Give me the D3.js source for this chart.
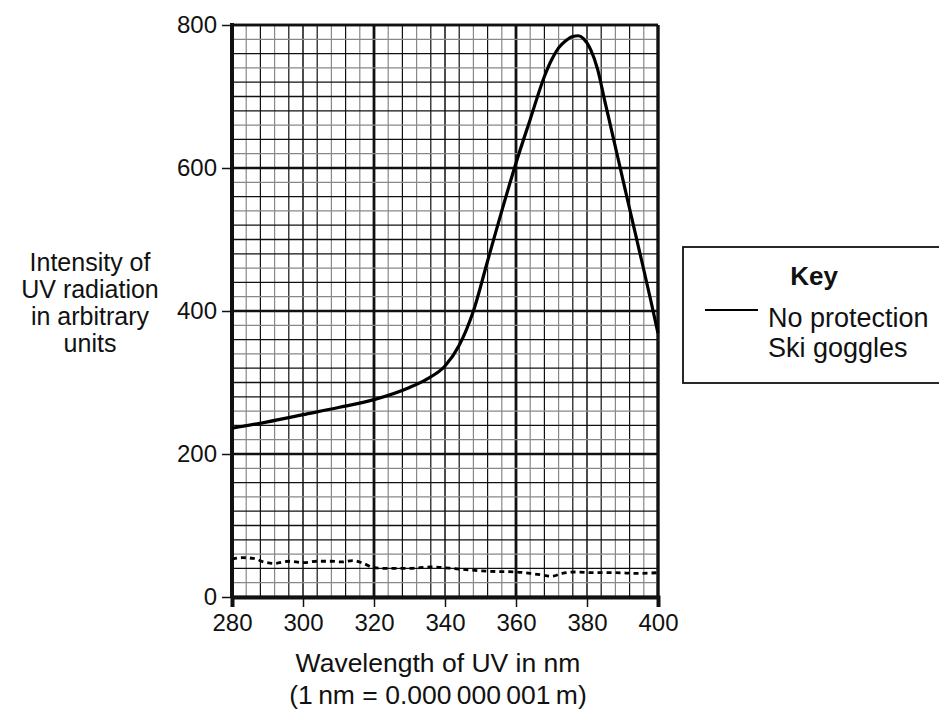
<html>
    <head>
        <style>
            body { margin: 0; background: #fff; }
            text { font-family: "Liberation Sans", Arial, sans-serif; fill: #111; }
        </style>
        <script src="https://d3js.org/d3.v7.min.js"></script>
    </head>
    <body>
        <svg width="939" height="709"></svg>
        <script>
            // wavelength (nm) and intensity
            let noProtWl  = [280, 290, 300, 310, 320, 330, 335, 340, 344, 348, 352, 356, 360, 364, 368, 370, 372, 374, 376, 377.5, 379, 381, 383, 385, 387, 389.5, 392, 395, 398, 400]
            let noProtVal = [236, 245, 255, 265, 276, 293, 305, 323, 352, 400, 470, 540, 607, 668, 728, 751, 768, 778, 784, 785, 781, 766, 738, 694, 651, 597, 543, 479, 414, 369]

            let skiWl  = [280, 283, 286, 289, 292, 296, 300, 304, 308, 311, 314, 317, 320, 324, 330, 336, 344, 352, 360, 364, 367, 370, 373, 377, 382, 388, 394, 400]
            let skiVal = [53, 55, 54, 49, 47, 50, 48, 50, 50, 49, 51, 47, 41, 40, 40, 42, 39, 36, 35, 33, 31, 29, 33, 35, 34, 34, 33, 34]

            let xTicks = [280, 300, 320, 340, 360, 380, 400]
            let yTicks = [0, 200, 400, 600, 800]
            let yTitle = ["Intensity of", "UV radiation", "in arbitrary", "units"]
            let keyLabels = ["No protection", "Ski goggles"]

            let svg = d3.select("svg")

            let xScale = d3.scaleLinear().domain([280, 400]).range([232, 658]),
                yScale = d3.scaleLinear().domain([0, 800]).range([597, 25])

            // graph paper: small squares of 4 nm by 20 units
            let g = svg.append("g")
            d3.range(280, 400.1, 4).forEach(function(v, i) {
                let major = i % 10 == 0, mid = i % 5 == 0
                g.append("line")
                 .attr("x1", xScale(v)).attr("x2", xScale(v))
                 .attr("y1", yScale(800)).attr("y2", yScale(0))
                 .attr("stroke", major || mid || i % 2 == 0 ? "#111" : "#888")
                 .attr("stroke-width", major ? 2.8 : (mid ? 1.5 : 1.2))
            })
            d3.range(0, 800.1, 20).forEach(function(v, i) {
                let major = i % 10 == 0, mid = i % 5 == 0
                g.append("line")
                 .attr("x1", xScale(280)).attr("x2", xScale(400))
                 .attr("y1", yScale(v)).attr("y2", yScale(v))
                 .attr("stroke", major || mid || i % 2 == 0 ? "#111" : "#888")
                 .attr("stroke-width", major ? 2.5 : (mid ? 1.5 : 1.2))
            })
            // frame
            g.append("line").attr("x1", xScale(400)).attr("x2", xScale(400))
             .attr("y1", yScale(800)).attr("y2", yScale(0)).attr("stroke", "#111").attr("stroke-width", 3)
            g.append("line").attr("x1", xScale(280)).attr("x2", xScale(400))
             .attr("y1", yScale(800)).attr("y2", yScale(800)).attr("stroke", "#111").attr("stroke-width", 2.5)

            // axes
            let xAxis = svg.append("g")
             .attr("transform", "translate(0," + yScale(0) + ")")
             .call(d3.axisBottom(xScale).tickValues(xTicks).tickSize(10).tickPadding(7))
            let yAxis = svg.append("g")
             .attr("transform", "translate(" + xScale(280) + ",0)")
             .call(d3.axisLeft(yScale).tickValues(yTicks).tickSize(10).tickPadding(5))

            ;[xAxis, yAxis].forEach(function(a) {
                a.select(".domain").attr("stroke", "#111").attr("stroke-width", 4)
                a.selectAll(".tick line").attr("stroke", "#111").attr("stroke-width", 1.5)
                a.selectAll(".tick text").attr("font-size", 24).attr("fill", "#111")
                 .attr("font-family", "Liberation Sans, Arial, sans-serif")
            })
            yAxis.select(".domain").attr("d", "M0," + (yScale(800) - 2) + "V" + yScale(0))

            // curves
            let lineNo = d3.line()
                .x(function(d, i) { return xScale(noProtWl[i]); })
                .y(function(d) { return yScale(d); })
                .curve(d3.curveMonotoneX)
            svg.append("path")
             .attr("d", lineNo(noProtVal))
             .attr("fill", "none").attr("stroke", "#000").attr("stroke-width", 3.2)

            let lineSki = d3.line()
                .x(function(d, i) { return xScale(skiWl[i]); })
                .y(function(d) { return yScale(d); })
                .curve(d3.curveMonotoneX)
            svg.append("path")
             .attr("d", lineSki(skiVal))
             .attr("fill", "none").attr("stroke", "#000").attr("stroke-width", 2.8)
             .attr("stroke-dasharray", "5,4")

            // axis titles
            svg.append("text")
             .attr("x", 90).attr("text-anchor", "middle").attr("font-size", 25)
             .selectAll("tspan").data(yTitle).enter().append("tspan")
             .attr("x", 90).attr("y", function(d, i) { return 271 + i * 27; })
             .text(function(d) { return d; })

            svg.append("text")
             .attr("x", 438).attr("y", 672).attr("text-anchor", "middle").attr("font-size", 26.5)
             .text("Wavelength of UV in nm")
            svg.append("text")
             .attr("x", 438).attr("y", 704).attr("text-anchor", "middle").attr("font-size", 26.5)
             .text("(1\u2009nm = 0.000\u2009000\u2009001\u2009m)")

            // key
            let key = svg.append("g")
            key.append("rect")
             .attr("x", 683).attr("y", 247).attr("width", 270).attr("height", 136)
             .attr("fill", "#fff").attr("stroke", "#111").attr("stroke-width", 1.8)
            key.append("text")
             .attr("x", 814).attr("y", 285).attr("text-anchor", "middle")
             .attr("font-size", 26).attr("font-weight", "bold").text("Key")
            key.append("line")
             .attr("x1", 705).attr("x2", 758).attr("y1", 310).attr("y2", 310)
             .attr("stroke", "#000").attr("stroke-width", 2)
            key.selectAll(".klab").data(keyLabels).enter().append("text")
             .attr("class", "klab")
             .attr("x", 768).attr("y", function(d, i) { return 327 + i * 30; })
             .attr("font-size", 27)
             .text(function(d) { return d; })
        </script>
    </body>
</html>
